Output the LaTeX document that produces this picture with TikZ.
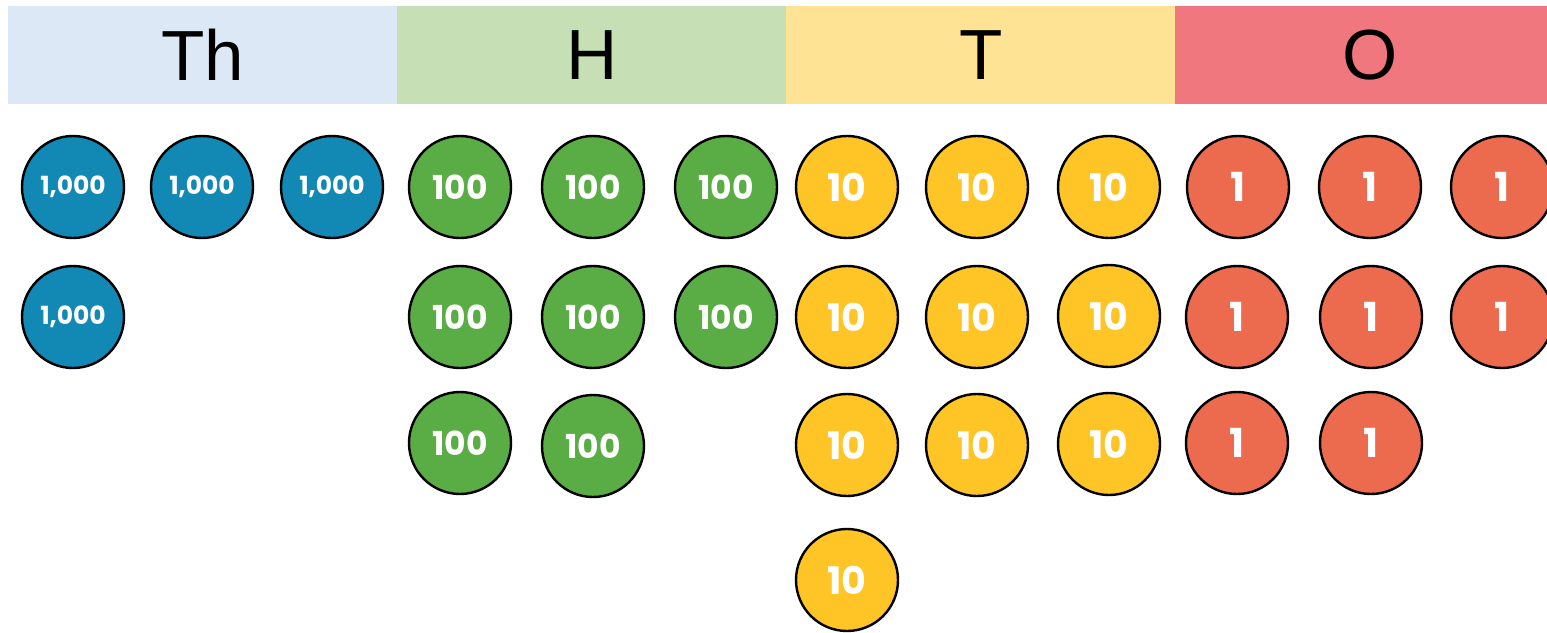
\documentclass[tikz,border=0pt]{standalone}
\usepackage{fontspec}
\setmainfont{Liberation Sans}
\newfontfamily\coinfont{Poppins}
\definecolor{thbg}{HTML}{DDE8F6}
\definecolor{hbg}{HTML}{C7DFB4}
\definecolor{tbg}{HTML}{FFE394}
\definecolor{obg}{HTML}{EF777D}
\definecolor{cblue}{HTML}{1289B5}
\definecolor{cgreen}{HTML}{5AAC44}
\definecolor{cyellow}{HTML}{FFC425}
\definecolor{cred}{HTML}{EC6B4F}
\newcommand{\cointxt}[1]{\raisebox{-2pt}{#1}}
\tikzset{
  header/.style={draw=none, inner sep=0pt, minimum height=98pt, minimum width=389pt,
    anchor=north west, font=\fontsize{71}{71}\selectfont},
  coin/.style={circle, draw=black, line width=2.4pt, minimum size=102pt, inner sep=0pt,
    text=white, font=\coinfont\bfseries},
  thou/.style={coin, fill=cblue, font=\coinfont\bfseries\fontsize{25}{25}\selectfont},
  hund/.style={coin, fill=cgreen, font=\coinfont\bfseries\fontsize{33}{33}\selectfont},
  tens/.style={coin, fill=cyellow, font=\coinfont\bfseries\fontsize{38}{38}\selectfont},
  ones/.style={coin, fill=cred, font=\coinfont\bfseries\fontsize{40}{40}\selectfont},
}
\begin{document}
\begin{tikzpicture}[x=1pt,y=-1pt]
\useasboundingbox (0,0) rectangle (1547,632);
\node[header, fill=thbg] (hTh) at (8,6) {Th};
\node[header, fill=hbg] (hH) at (397,6) {H};
\node[header, fill=tbg] (hT) at (786,6) {T};
\node[header, fill=obg] (hO) at (1175,6) {O};
% thousands
\foreach \i/\x/\y in {1/73/187, 2/202/187, 3/332/187, 4/73/317}
  \node[thou] (th\i) at (\x,\y) {\cointxt{1,000}};
% hundreds
\foreach \i/\x/\y in {1/460/187, 2/593/187, 3/726/187, 4/460/317, 5/593/317, 6/726/317, 7/460/443, 8/593/446}
  \node[hund] (hu\i) at (\x,\y) {\cointxt{100}};
% tens
\foreach \i/\x/\y in {1/847/187, 2/977/187, 3/1109/187, 4/847/317, 5/977/317, 6/1109/316, 7/847/445, 8/977/445, 9/1109/444, 10/847/580}
  \node[tens] (te\i) at (\x,\y) {\cointxt{10}};
% ones
\foreach \i/\x/\y in {1/1238/187, 2/1370/187, 3/1502/187, 4/1237/317, 5/1371/317, 6/1502/317, 7/1237/443, 8/1371/443}
  \node[ones] (on\i) at (\x,\y) {\cointxt{1}};
\end{tikzpicture}
\end{document}
